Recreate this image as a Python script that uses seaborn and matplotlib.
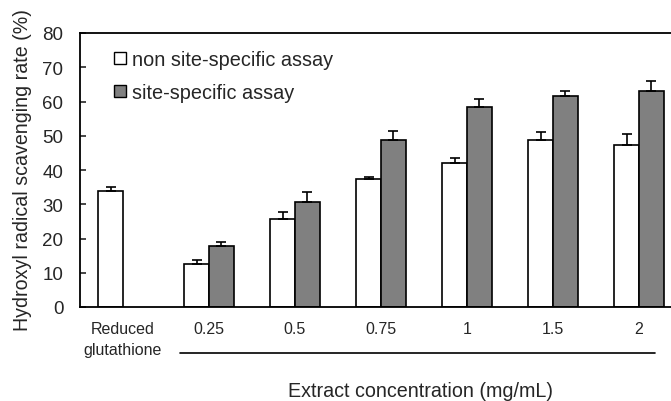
import matplotlib
matplotlib.use("Agg")
import matplotlib.pyplot as plt
import seaborn as sns
import pandas as pd
import numpy as np
from matplotlib.patches import Patch
from matplotlib.lines import Line2D

categories = ["Reduced\nglutathione", "0.25", "0.5", "0.75", "1", "1.5", "2"]
non_site = [33.8, 12.5, 25.8, 37.3, 42.1, 48.9, 47.4]
non_site_err = [1.2, 1.2, 2.0, 0.8, 1.4, 2.2, 3.1]
site = [np.nan, 17.7, 30.6, 48.8, 58.5, 61.5, 63.0]
site_err = [np.nan, 1.4, 2.9, 2.7, 2.2, 1.5, 3.1]
series = ["non site-specific assay", "site-specific assay"]
colors = ["#ffffff", "#808080"]

rows = []
for c, v in zip(categories, non_site):
    rows.append({"cat": c, "assay": series[0], "val": v})
for c, v in zip(categories, site):
    if not np.isnan(v):
        rows.append({"cat": c, "assay": series[1], "val": v})
df = pd.DataFrame(rows)

sns.set_style("ticks")
plt.rcParams["font.family"] = ["Liberation Sans", "DejaVu Sans"]

fig = plt.figure(figsize=(6.71, 4.02), dpi=100)
W, H = 671, 402
ax = fig.add_axes([80 / W, (H - 308) / H, 602 / W, (308 - 34) / H])

sns.barplot(data=df, x="cat", y="val", hue="assay", order=categories,
            hue_order=series, palette=colors, width=0.58,
            edgecolor="black", linewidth=1.2, errorbar=None, ax=ax,
            legend=False)

errs = [non_site_err, [e for e in site_err if not np.isnan(e)]]
for cont, err in zip(ax.containers, errs):
    xs = [p.get_x() + p.get_width() / 2 for p in cont.patches]
    ys = [p.get_height() for p in cont.patches]
    ax.errorbar(xs, ys, yerr=[np.zeros(len(err)), err], fmt="none",
                ecolor="black", elinewidth=1.2, capsize=3.8, capthick=1.2,
                zorder=1)

ax.set_xlim(-0.5, 6.5)
ax.set_ylim(0, 80)
ax.set_yticks(range(0, 81, 10))
ax.tick_params(axis="y", direction="in", length=4, width=1.2, pad=12,
               labelsize=13.5)
ax.tick_params(axis="x", length=0, pad=10, labelsize=11.5)
for lbl in ax.get_xticklabels():
    lbl.set_linespacing(1.5)
for s in ["left", "bottom", "top"]:
    ax.spines[s].set_linewidth(1.3)
    ax.spines[s].set_color("black")
ax.spines["right"].set_visible(False)
ax.set_xlabel("")
ax.set_ylabel("Hydroxyl radical scavenging rate (%)", fontsize=14.1)
ax.yaxis.set_label_coords(23 / W, 1 - 170 / H, transform=fig.transFigure)
ax.yaxis.label.set_va("center")

handles = [Patch(facecolor=c, edgecolor="black", linewidth=1.0) for c in colors]
ax.legend(handles, series, loc="upper left", bbox_to_anchor=(114 / W, 1 - 51 / H),
          bbox_transform=fig.transFigure, frameon=False, fontsize=14.3,
          handlelength=0.58, handleheight=0.58, handletextpad=0.35,
          labelspacing=0.72, borderpad=0, borderaxespad=0)

fig.add_artist(Line2D([180 / W, 655 / W], [1 - 354 / H, 1 - 354 / H],
                      transform=fig.transFigure, color="black", linewidth=1.2))
fig.text(420 / W, 1 - 392 / H, "Extract concentration (mg/mL)", fontsize=14.2,
         ha="center", va="center")

fig.savefig("out.png", dpi=100)
